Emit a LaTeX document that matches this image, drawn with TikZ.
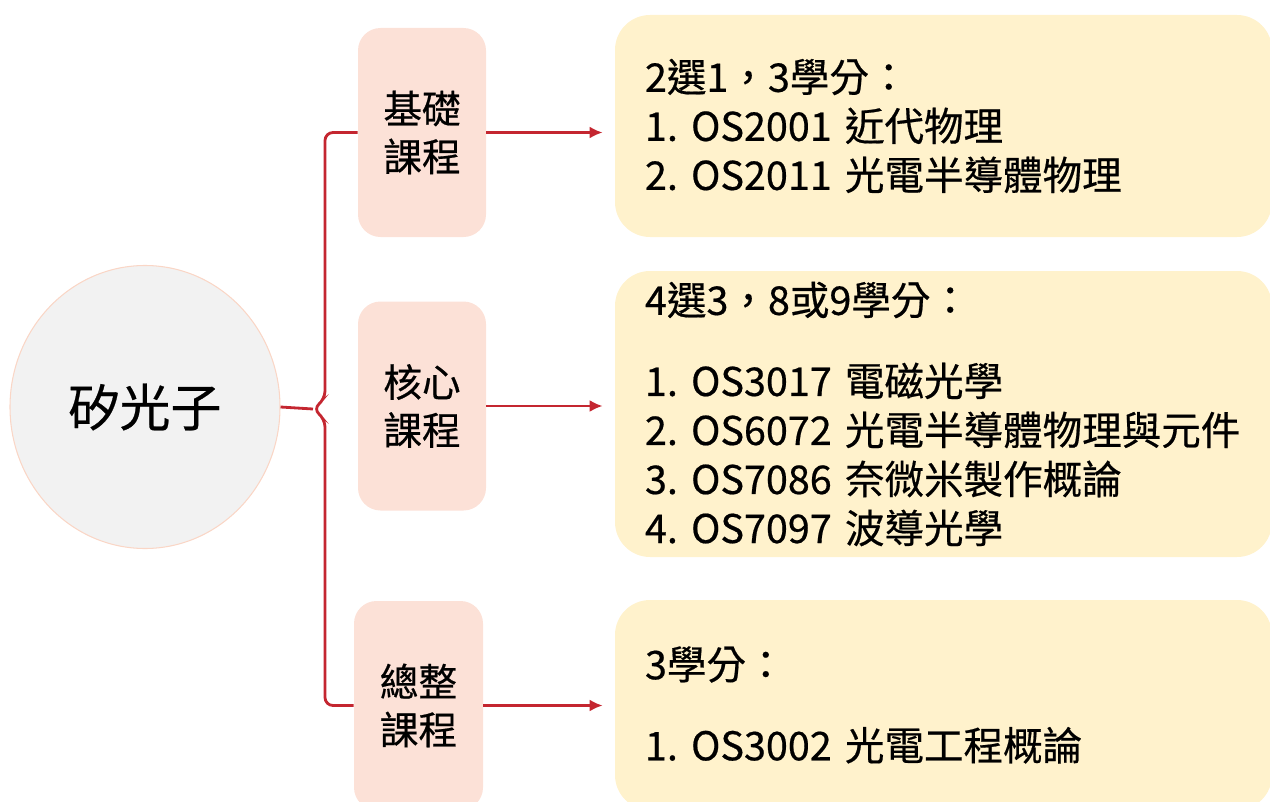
\documentclass[tikz,border=0pt]{standalone}
\usepackage{fontspec}
\setmainfont{Noto Sans CJK TC}[FakeBold=0.5]
\usetikzlibrary{arrows.meta,shapes.geometric}
\definecolor{linkred}{RGB}{196,38,48}
\definecolor{tagpink}{RGB}{252,225,215}
\definecolor{notecream}{RGB}{255,242,204}
\definecolor{hubgray}{RGB}{242,242,242}
\definecolor{hubrim}{RGB}{250,214,198}
\tikzset{
	linkline/.style = {draw=linkred, line width=1.6pt},
	tagbox/.style = {fill=tagpink, rounded corners=4.5mm, minimum width=25.6mm, minimum height=41.8mm, align=center, font=\fontsize{22}{27.3}\selectfont},
	notebox/.style = {fill=notecream, rounded corners=7mm, text width=119.4mm, inner xsep=6mm, align=left, font=\fontsize{22.5}{27.9}\selectfont},
}
\frenchspacing
\begin{document}
\begin{tikzpicture}[x = 0.2mm,y=-0.2mm]
	\useasboundingbox (0,0) rectangle (1270,802);
	\clip (0,0) rectangle (1270,802);
	\node[ellipse, fill=hubgray, draw=hubrim, line width=0.6pt, minimum width=54mm, minimum height=56.6mm, font=\fontsize{29}{34}\selectfont] (hub) at (145,407) {矽光子};
	\node[tagbox] (basic) at (422,132.5) {基礎\\課程};
	\node[tagbox] (core) at (422,406) {核心\\課程};
	\node[tagbox, minimum width=25.8mm] (capst) at (418.5,705.5) {總整\\課程};
	\node[notebox, minimum height=44.4mm] (basicnote) at (943.5,126) {2選1，3學分：\\1. OS2001 近代物理\\2. OS2011 光電半導體物理};
	\node[notebox, minimum height=57.2mm] (corenote) at (943.5,414) {4選3，8或9學分：\\[6.4mm]1. OS3017 電磁光學\\2. OS6072 光電半導體物理與元件\\3. OS7086 奈微米製作概論\\4. OS7097 波導光學};
	\node[notebox, minimum height=42mm] (capstnote) at (943.5,705) {3學分：\\[6.4mm]1. OS3002 光電工程概論};
	\coordinate (tip) at (313,409);
	\draw[linkline] (hub.east) -- (tip);
	\draw[linkline, rounded corners=1.6mm] (basic.west) -- (325,132.5) -- (325,399) -- (tip) -- (325,419) -- (325,705.5) -- (capst.west);
	\draw[linkline, -{Latex[length=2.6mm,width=2.4mm]}, shorten >= 2.4mm] (basic.east) -- (basic.east -| basicnote.west);
	\draw[linkline, -{Latex[length=2.6mm,width=2.4mm]}, shorten >= 2.4mm] (core.east) -- (core.east -| corenote.west);
	\draw[linkline, -{Latex[length=2.6mm,width=2.4mm]}, shorten >= 2.4mm] (capst.east) -- (capst.east -| capstnote.west);
\end{tikzpicture}
\end{document}
